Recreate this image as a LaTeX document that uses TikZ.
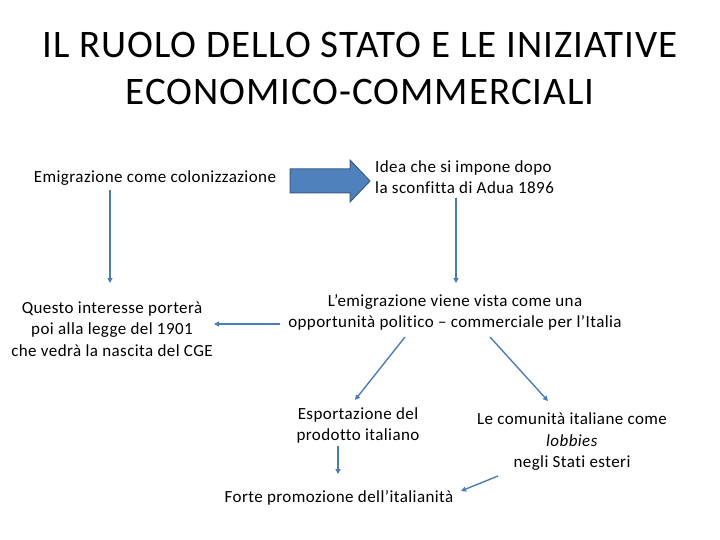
\documentclass[tikz,border=0pt]{standalone}
\usepackage{fontspec}
\setmainfont{Carlito}[Ligatures={NoCommon}, LetterSpace=2.5]
\usetikzlibrary{arrows.meta}
\definecolor{arr}{HTML}{4A7EBB}
\definecolor{bfill}{HTML}{4F81BD}
\definecolor{bdraw}{HTML}{385D8A}
\begin{document}
\begin{tikzpicture}[x=1pt,y=-1pt,
  txt/.style={font=\fontsize{17}{21.5}\selectfont, inner sep=0pt, align=center},
  conn/.style={draw=arr, line width=1.4pt, -{Triangle[length=5pt,width=5pt]}}]
\useasboundingbox (0,0) rectangle (720,540);
\node[inner sep=0pt, align=center, font=\fontsize{39}{47}\selectfont] (title) at (360,68) {IL RUOLO DELLO STATO E LE INIZIATIVE\\ECONOMICO-COMMERCIALI};
\node[txt] (emi) at (155,178) {Emigrazione come colonizzazione};
\node[txt, align=left, anchor=west] (idea) at (375,177) {Idea che si impone dopo\\la sconfitta di Adua 1896};
\node[txt] (quest) at (112,329) {Questo interesse porterà\\poi alla legge del 1901\\che vedrà la nascita del CGE};
\node[txt] (lemi) at (455,312.5) {L’emigrazione viene vista come una\\opportunità politico – commerciale per l’Italia};
\node[txt] (esp) at (358,425.5) {Esportazione del\\prodotto italiano};
\node[txt] (com) at (572,442) {Le comunità italiane come\\\textit{lobbies}\\negli Stati esteri};
\node[txt] (forte) at (339,498) {Forte promozione dell’italianità};
% block arrow
\draw[bdraw, fill=bfill, line width=1pt] (290,169) -- (350,169) -- (350,160) -- (370,181) -- (350,202) -- (350,193) -- (290,193) -- cycle;
\coordinate (a1s) at (110,190); \coordinate (a1e) at (110,283);
\draw[conn] (a1s) -- (a1e);
\coordinate (a2s) at (456,198); \coordinate (a2e) at (456,283);
\draw[conn] (a2s) -- (a2e);
\coordinate (a3s) at (280,324); \coordinate (a3e) at (214,324);
\draw[conn] (a3s) -- (a3e);
\coordinate (a4s) at (405,337); \coordinate (a4e) at (355,400);
\draw[conn] (a4s) -- (a4e);
\coordinate (a5s) at (490,337); \coordinate (a5e) at (548,401);
\draw[conn] (a5s) -- (a5e);
\coordinate (a6s) at (338,446); \coordinate (a6e) at (338,474);
\draw[conn] (a6s) -- (a6e);
\coordinate (a7s) at (498,476); \coordinate (a7e) at (461,491);
\draw[conn] (a7s) -- (a7e);
\end{tikzpicture}
\end{document}
